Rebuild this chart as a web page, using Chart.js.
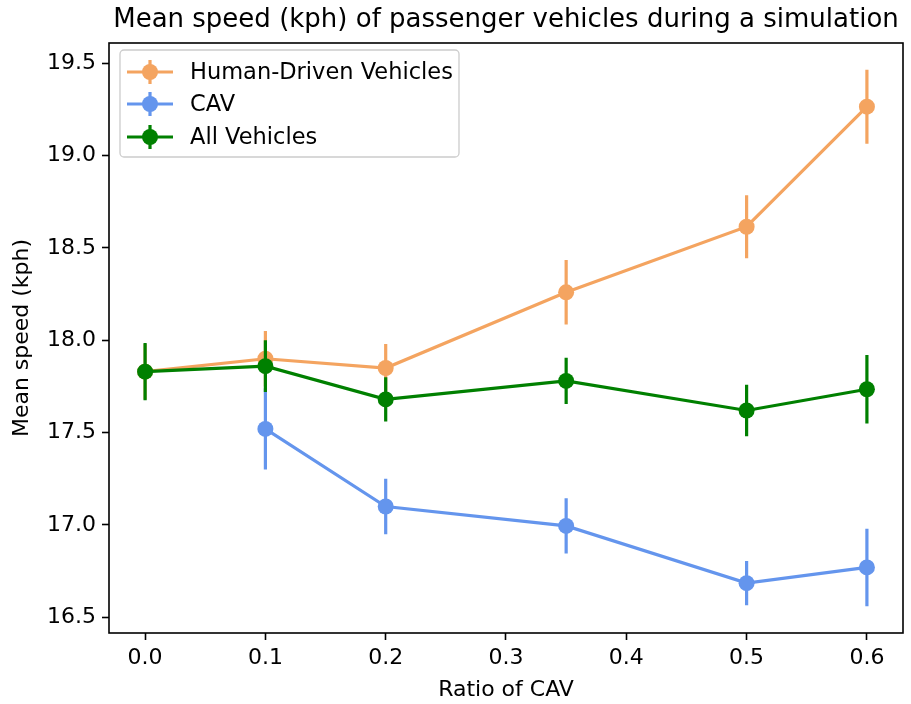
<!DOCTYPE html>
<html>
<head>
<meta charset="utf-8">
<script src="https://cdn.jsdelivr.net/npm/chart.js@4.4.1/dist/chart.umd.min.js"></script>
<style>
  html, body { margin: 0; padding: 0; background: #fff; }
  #wrap { width: 911px; height: 704px; }
</style>
</head>
<body>
<div id="wrap"><canvas id="grafico" width="911" height="704"></canvas></div>
<script>
// values
const ratios = [0, 0.1, 0.2, 0.35, 0.5, 0.6];
const humanMean = [17.83, 17.90, 17.85, 18.26, 18.615, 19.265];
const humanErr = [0.15, 0.15, 0.13, 0.175, 0.17, 0.2];
const cavMean = [null, 17.52, 17.10, 16.995, 16.685, 16.77];
const cavErr = [null, 0.22, 0.15, 0.15, 0.12, 0.21];
const allMean = [17.83, 17.86, 17.68, 17.78, 17.62, 17.735];
const allErr = [0.155, 0.14, 0.12, 0.125, 0.14, 0.185];

const xTicks = [0, 0.1, 0.2, 0.3, 0.4, 0.5, 0.6];
const yTicks = [16.5, 17.0, 17.5, 18.0, 18.5, 19.0, 19.5];

const chartTitle = 'Mean speed (kph) of passenger vehicles during a simulation';
const xTitle = 'Ratio of CAV';
const yTitle = 'Mean speed (kph)';

const FONT = "'DejaVu Sans', sans-serif";

const series = [
  { label: 'Human-Driven Vehicles', mean: humanMean, err: humanErr, color: '#f4a460' },
  { label: 'CAV', mean: cavMean, err: cavErr, color: '#6495ed' },
  { label: 'All Vehicles', mean: allMean, err: allErr, color: '#008000' }
];

function puntos(mean) {
  const out = [];
  ratios.forEach((x, i) => {
    if (mean[i] !== null) out.push({ x: x, y: mean[i] });
  });
  return out;
}

function barras(mean, err) {
  const out = [];
  ratios.forEach((x, i) => {
    if (mean[i] === null) return;
    out.push({ x: x, y: mean[i] - err[i] });
    out.push({ x: x, y: mean[i] + err[i] });
    out.push({ x: x, y: null });
  });
  return out;
}

const datasets = [];
series.forEach((s, k) => {
  const base = (series.length - k) * 2;
  datasets.push({
    label: s.label + ' err',
    data: barras(s.mean, s.err),
    borderColor: s.color,
    borderWidth: 3.2,
    pointRadius: 0,
    spanGaps: false,
    order: base
  });
  datasets.push({
    label: s.label,
    data: puntos(s.mean),
    borderColor: s.color,
    backgroundColor: s.color,
    borderWidth: 3.2,
    pointRadius: 8,
    pointBorderWidth: 0,
    pointBackgroundColor: s.color,
    order: base - 1
  });
});

const marco = {
  id: 'marco',
  afterDatasetsDraw(chart) {
    const { ctx, chartArea: a } = chart;
    ctx.save();
    ctx.strokeStyle = '#000';
    ctx.lineWidth = 1.6;
    ctx.strokeRect(a.left, a.top, a.right - a.left, a.bottom - a.top);

    // title over the axes
    ctx.fillStyle = '#000';
    ctx.font = '26px ' + FONT;
    ctx.textAlign = 'center';
    ctx.textBaseline = 'middle';
    ctx.fillText(chartTitle, (a.left + a.right) / 2, 20);

    // legend box
    const bx = a.left + 11, by = a.top + 7, bw = 339, bh = 107;
    ctx.beginPath();
    ctx.roundRect(bx, by, bw, bh, 4);
    ctx.fillStyle = 'rgba(255,255,255,0.8)';
    ctx.fill();
    ctx.strokeStyle = '#cccccc';
    ctx.lineWidth = 1.3;
    ctx.stroke();

    const rows = [22, 54, 87];
    ctx.font = '22.5px ' + FONT;
    ctx.textAlign = 'left';
    series.forEach((s, k) => {
      const y = by + rows[k];
      const x0 = bx + 7, x1 = bx + 53, xm = bx + 30;
      ctx.strokeStyle = s.color;
      ctx.lineWidth = 3.2;
      ctx.beginPath();
      ctx.moveTo(x0, y); ctx.lineTo(x1, y);
      ctx.moveTo(xm, y - 12); ctx.lineTo(xm, y + 12);
      ctx.stroke();
      ctx.fillStyle = s.color;
      ctx.beginPath();
      ctx.arc(xm, y, 8, 0, Math.PI * 2);
      ctx.fill();
      ctx.fillStyle = '#000';
      ctx.fillText(s.label, bx + 70, y + 1);
    });
    ctx.restore();
  }
};

new Chart(document.getElementById('grafico'), {
  type: 'line',
  data: { datasets: datasets },
  options: {
    responsive: false,
    animation: false,
    layout: { padding: { top: 43, right: 8, left: 0, bottom: 0 } },
    plugins: {
      legend: { display: false },
      title: { display: false },
      tooltip: { enabled: false }
    },
    scales: {
      x: {
        type: 'linear',
        min: -0.03,
        max: 0.63,
        afterFit: (scale) => { scale.height = 71; },
        afterBuildTicks: (scale) => { scale.ticks = xTicks.map(v => ({ value: v })); },
        border: { display: false },
        grid: { drawOnChartArea: false, drawTicks: true, tickLength: 7, tickWidth: 1.6, tickColor: '#000' },
        ticks: {
          color: '#000',
          padding: 5,
          font: { family: FONT, size: 22 },
          callback: (v) => Number(v).toFixed(1)
        },
        title: {
          display: true,
          text: xTitle,
          color: '#000',
          font: { family: FONT, size: 22 },
          padding: { top: 0, bottom: 1 }
        }
      },
      y: {
        type: 'linear',
        min: 16.415,
        max: 19.61,
        afterFit: (scale) => { scale.width = 109; },
        afterBuildTicks: (scale) => { scale.ticks = yTicks.map(v => ({ value: v })); },
        border: { display: false },
        grid: { drawOnChartArea: false, drawTicks: true, tickLength: 7, tickWidth: 1.6, tickColor: '#000' },
        ticks: {
          color: '#000',
          padding: 6,
          font: { family: FONT, size: 22 },
          callback: (v) => Number(v).toFixed(1)
        },
        title: {
          display: true,
          text: yTitle,
          color: '#000',
          font: { family: FONT, size: 22 },
          padding: { top: 9, bottom: 0 }
        }
      }
    }
  },
  plugins: [marco]
});
</script>
</body>
</html>
